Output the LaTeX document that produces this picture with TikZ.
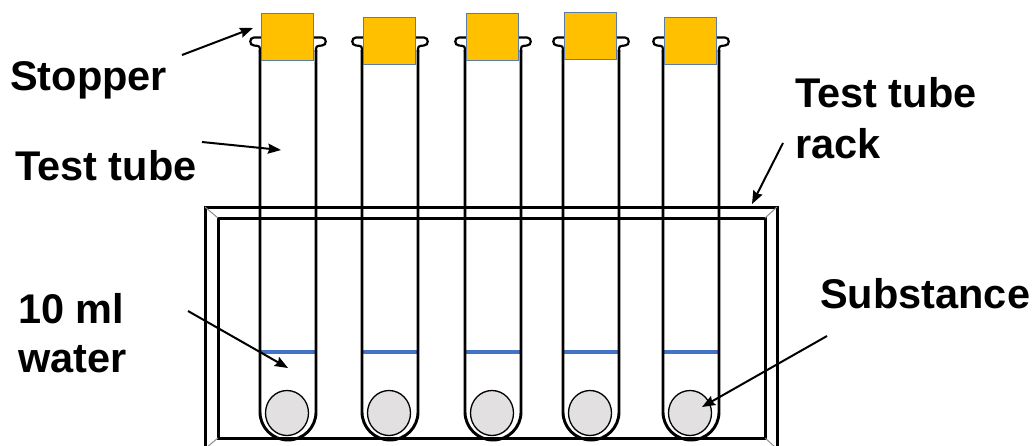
\documentclass[tikz,border=0pt]{standalone}
\usepackage{fontspec}
\setmainfont{Liberation Sans}
\usetikzlibrary{arrows.meta}
\definecolor{stopperfill}{HTML}{FFC000}
\definecolor{stopperedge}{HTML}{5B7BA8}
\definecolor{waterblue}{HTML}{4472C4}
\definecolor{substfill}{HTML}{E2E0E0}
\definecolor{bevel}{HTML}{8C8C8C}
\begin{document}
\begin{tikzpicture}[x=1pt,y=-1pt,
  tubewall/.style={line width=2.9pt, black, line join=round},
  rackline/.style={line width=3pt, black},
  bevelline/.style={line width=1pt, bevel},
  waterline/.style={line width=3.5pt, waterblue},
  substball/.style={fill=substfill, draw=black, line width=1.3pt},
  stopperbox/.style={fill=stopperfill, draw=stopperedge, line width=0.8pt},
  arr/.style={line width=2pt, -{Stealth[length=13pt,width=10pt,inset=1.5pt]}},
  lbl/.style={font=\fontsize{41.5}{48}\selectfont\bfseries, inner sep=0pt, anchor=base west}]
\useasboundingbox (0,0) rectangle (1033,445);
% rack
\draw[rackline] (205,448) -- (205,207) -- (777,207) -- (777,448);
\draw[rackline] (218,218) rectangle (765,438);
\draw[bevelline] (205,207) -- (218,218);
\draw[bevelline] (777,207) -- (765,218);
\draw[bevelline] (218,438) -- (207,447);
\draw[bevelline] (765,438) -- (775,447);
% tubes
\foreach \L/\st/\sb [evaluate=\L as \R using \L+56, evaluate=\L as \C using \L+28] in {260/13/60, 362/17/64, 465/13/60, 563/12/59, 663/17/64} {
  \draw[waterline] (\L,352) -- (\R,352);
  \draw[substball] (\C-1,413) ellipse [x radius=21.5, y radius=22.5];
  \draw[tubewall] (\L,50) -- (\L,412) .. controls (\L,427.5) and ({\C-15.5},440) .. (\C,440)
     .. controls ({\C+15.5},440) and (\R,427.5) .. (\R,412) -- (\R,50);
  \draw[line width=2.2pt] (\L,52) .. controls (\L,46) .. ({\L-6},45.5)
     .. controls ({\L-11},45.5) and ({\L-11},37.5) .. ({\L-6},37.5) -- ({\L+6},37.5);
  \draw[line width=2.2pt] (\R,52) .. controls (\R,46) .. ({\R+6},45.5)
     .. controls ({\R+11},45.5) and ({\R+11},37.5) .. ({\R+6},37.5) -- ({\R-6},37.5);
  \draw[stopperbox] ({\L+1},\st) rectangle ({\L+53},\sb);
}
% labels
\node[lbl] (stopper) at (10,90) {Stopper};
\node[lbl] (testtube) at (15,180) {Test tube};
\node[lbl] (water1) at (18,323) {10 ml};
\node[lbl] (water2) at (18,372) {water};
\node[lbl] (rack1) at (795,107) {Test tube};
\node[lbl] (rack2) at (795,158) {rack};
\node[lbl] (subst) at (820,308) {Substance};
% arrows
\coordinate (stopperA) at (182,55);   \coordinate (stopperB) at (253,28);
\coordinate (tubeA) at (202,142);     \coordinate (tubeB) at (281,150);
\coordinate (waterA) at (188,311);    \coordinate (waterB) at (288,368);
\coordinate (rackA) at (783,143);     \coordinate (rackB) at (752,204);
\coordinate (substA) at (827,336);    \coordinate (substB) at (702,407);
\draw[arr] (stopperA) -- (stopperB);
\draw[arr] (tubeA) -- (tubeB);
\draw[arr] (waterA) -- (waterB);
\draw[arr] (rackA) -- (rackB);
\draw[arr] (substA) -- (substB);
\end{tikzpicture}
\end{document}
